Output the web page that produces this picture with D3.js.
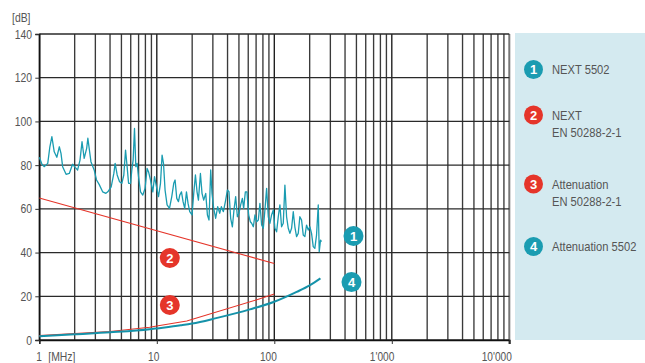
<!DOCTYPE html>
<html><head><meta charset="utf-8">
<script src="https://cdn.jsdelivr.net/npm/d3@7"></script>
<style>
html,body{margin:0;padding:0;background:#fff;}
svg{display:block;}
text{font-family:"Liberation Sans",Arial,sans-serif;}
</style></head>
<body>
<svg id="chart" width="645" height="363"></svg>
<script>
// ---- data ----
const yTicks = [0, 20, 40, 60, 80, 100, 120, 140];
const xTicks = [1, 10, 100, 1000, 10000];
const xTickLabels = ["1", "10", "100", "1'000", "10'000"];
const xUnit = "[MHz]";
const yUnit = "[dB]";

// Series 1: NEXT 5502 (measured)
const next5502Freq = [1.0,1.054,1.10,1.18,1.23,1.28,1.34,1.41,1.48,1.53,1.58,1.69,1.80,1.92,2.02,2.12,2.22,2.31,2.41,2.53,2.59,2.75,2.93,3.07,3.23,3.46,3.69,
  3.83,4.09,4.31,4.42,4.60,4.82,5.04,5.24,5.42,5.59,5.75,5.98,6.13,6.29,6.46,6.63,6.80,6.99,7.27,7.60,7.95,8.27,8.50,8.84,9.25,9.56,9.94,10.34,10.75,11.09,11.40,11.76,12.23,12.82,13.41,13.94,14.31,14.79,15.29,
  15.68,16.22,16.73,17.29,17.88,18.45,19.07,19.95,20.62,21.32,22.00,22.61,23.51,24.26,25.07,26.08,26.96,27.82,28.76,29.50,30.50,31.71,32.98,34.30,35.45,36.87,38.56,39.87,41.14,42.53,43.98,45.38,46.91,48.50,50.04,51.73,53.48,54.86,56.71,58.52,60.50,62.55,
  64.15,66.32,68.44,70.74,73.13,75.46,78.01,80.64,83.21,86.03,88.92,91.75,94.86,98.06,101.2,104.6,108.1,111.6,115.3,119.2,123.1,127.2,131.5,135.7,140.3,145.0,149.6,154.7,159.9,165.0,170.6,176.4,182.0,188.1,194.5,200.7,207.5,214.5,221.3,228.8,236.6,241.2,247.4,252.3];
const next5502dB = [83.6,80.4,79.3,80.8,88.4,93.0,86.1,83.6,88.4,85.4,79.3,75.8,76.2,80.4,79.0,77.8,82.3,90.7,83.1,87.7,92.3,81.6,77.8,73.2,71.2,67.8,67.1,
  67.8,70.1,76.2,80.8,75.5,72.4,71.7,75.5,86.9,79.3,71.7,71.7,77.8,82.3,96.8,79.3,80.8,74.7,67.8,66.3,69.4,78.5,77.0,73.2,67.8,74.7,70.1,65.6,71.7,84.6,80.8,68.6,61.8,60.2,65.6,71.7,73.2,64.8,63.3,
  66.3,67.8,63.3,60.2,67.8,62.5,58.7,57.2,67.1,75.5,67.8,64.0,76.2,67.1,64.0,67.1,57.2,54.9,77.8,67.1,60.2,55.7,61.0,58.0,61.0,58.7,64.0,68.6,67.8,55.7,51.8,59.5,65.6,56.4,58.0,61.8,64.8,60.2,67.8,67.8,57.2,54.1,
  53.4,51.8,57.2,54.1,54.9,62.5,52.6,51.1,59.5,69.4,56.4,53.4,57.2,59.5,51.1,49.5,56.4,61.8,51.8,53.4,70.9,56.4,51.1,48.8,51.1,58.7,51.8,47.3,48.8,56.4,54.9,48.0,47.3,52.6,50.3,51.8,48.8,42.7,41.9,48.0,61.8,40.4,45.7,45.0];

// Series 2: NEXT limit EN 50288-2-1
const nextLimitFreq = [1, 100];
const nextLimitdB = [65, 35];

// Series 3: Attenuation limit EN 50288-2-1
const attLimitFreq = [1, 4, 8.7, 10, 18, 70, 100];
const attLimitdB = [2.0, 3.9, 5.8, 6.4, 8.7, 18.3, 21.0];

// Series 4: Attenuation 5502
const att5502Freq = [1, 2, 4, 8.7, 10, 16, 20, 32, 62, 100, 155, 200, 247];
const att5502dB = [1.7, 2.6, 3.5, 4.9, 5.3, 6.7, 7.5, 10.0, 14.0, 17.5, 22.0, 25.0, 28.2];

// legend / markers
const legendNums = ["1", "2", "3", "4"];
const legendLines = [["NEXT 5502"], ["NEXT", "EN 50288-2-1"], ["Attenuation", "EN 50288-2-1"], ["Attenuation 5502"]];
const markerFreq = [472, 12.9, 12.9, 454];
const markerdB = [47.6, 37.5, 16.0, 26.5];

const teal = "#1a9cb1", red = "#e5352a";
const seriesColors = [teal, red, red, teal];
const textColor = "#555";

// ---- drawing ----
const svg = d3.select("#chart");
const x = d3.scaleLog().domain([1, 10000]).range([39.3, 509.3]);
const y = d3.scaleLinear().domain([0, 140]).range([340, 34]);

// condensed-looking label helper
function label(parent, px, py, txt, anchor, size, sx) {
  return parent.append("text")
    .attr("transform", `translate(${px},${py}) scale(${sx},1)`)
    .attr("text-anchor", anchor).attr("dy", "0.35em")
    .attr("fill", textColor).style("font-size", size + "px").text(txt);
}

// legend panel
svg.append("rect").attr("x", 515).attr("y", 33).attr("width", 130).attr("height", 307).attr("fill", "#d4eaf0");

// vertical grid
const minor = [];
for (let d = 1; d < 10000; d *= 10) for (let k = 1; k < 10; k++) minor.push(d * k);
svg.append("g").selectAll("line").data(minor).join("line")
  .attr("x1", d => x(d)).attr("x2", d => x(d))
  .attr("y1", y(140)).attr("y2", y(0))
  .attr("stroke", d => xTicks.includes(d) ? "#1a1a1a" : "#3a3a3a")
  .attr("stroke-width", 1.35);
// right border in gray
svg.append("line").attr("x1", x(10000)).attr("x2", x(10000)).attr("y1", y(140)).attr("y2", y(0) + 4)
  .attr("stroke", "#777").attr("stroke-width", 2);

// horizontal grid
svg.append("g").selectAll("line").data(yTicks).join("line")
  .attr("x1", x(1)).attr("x2", x(10000))
  .attr("y1", d => y(d)).attr("y2", d => y(d))
  .attr("stroke", "#2a2a2a").attr("stroke-width", 1.3);

// axes (tick marks through d3 axes, labels drawn condensed)
const yAxis = svg.append("g").attr("transform", `translate(${x(1)},0)`)
  .call(d3.axisLeft(y).tickValues(yTicks).tickSize(4).tickFormat(""));
yAxis.select(".domain").attr("stroke", "#111").attr("stroke-width", 1.5);
yAxis.selectAll("line").attr("stroke", "#333");
yTicks.forEach(t => label(svg, 32, y(t), String(t), "end", 13, 0.8));

const xAxis = svg.append("g").attr("transform", `translate(0,${y(0)})`)
  .call(d3.axisBottom(x).tickValues(xTicks).tickSize(4).tickFormat(""));
xAxis.select(".domain").attr("stroke", "#111").attr("stroke-width", 1.5);
xAxis.selectAll("line").attr("stroke", "#333");
xTicks.forEach((t, i) => label(svg, x(t) + 2.5, 356.5, xTickLabels[i], "end", 13, 0.78));
label(svg, x(1) + 9, 356.5, xUnit, "start", 13, 0.8);
label(svg, 12, 17.5, yUnit, "start", 13, 0.8);

// series
const line = d3.line().x(d => x(d[0])).y(d => y(d[1]));
const lineSmooth = d3.line().x(d => x(d[0])).y(d => y(d[1])).curve(d3.curveMonotoneX);

svg.append("path").datum(nextLimitFreq.map((f, i) => [f, nextLimitdB[i]]))
  .attr("d", line).attr("fill", "none").attr("stroke", red).attr("stroke-width", 1.1);
svg.append("path").datum(attLimitFreq.map((f, i) => [f, attLimitdB[i]]))
  .attr("d", line).attr("fill", "none").attr("stroke", red).attr("stroke-width", 1.1);
svg.append("path").datum(att5502Freq.map((f, i) => [f, att5502dB[i]]))
  .attr("d", lineSmooth).attr("fill", "none").attr("stroke", "#1592a9").attr("stroke-width", 2);
svg.append("path").datum(next5502Freq.map((f, i) => [f, next5502dB[i]]))
  .attr("d", line).attr("fill", "none").attr("stroke", teal).attr("stroke-width", 1.3)
  .attr("stroke-linejoin", "round");

// in-plot markers
const mk = svg.append("g").selectAll("g").data(legendNums).join("g")
  .attr("transform", (d, i) => `translate(${x(markerFreq[i])},${y(markerdB[i])})`);
mk.append("circle").attr("r", 10).attr("fill", (d, i) => seriesColors[i]);
mk.append("text").attr("text-anchor", "middle").attr("dy", "0.36em").attr("fill", "#fff")
  .style("font-size", "13px").style("font-weight", "bold").text(d => d);

// legend
const legY = [69.5, 115, 184, 246.5];
const lg = svg.append("g").selectAll("g").data(legendNums).join("g")
  .attr("transform", (d, i) => `translate(533.5,${legY[i]})`);
lg.append("circle").attr("r", 9.5).attr("fill", (d, i) => seriesColors[i]);
lg.append("text").attr("text-anchor", "middle").attr("dy", "0.36em").attr("fill", "#fff")
  .style("font-size", "13px").style("font-weight", "bold").text(d => d);
lg.each(function (d, i) {
  const g = d3.select(this);
  legendLines[i].forEach((t, j) => label(g, 18.5, j * 17.5, t, "start", 13, 0.86));
});
</script>
</body></html>
